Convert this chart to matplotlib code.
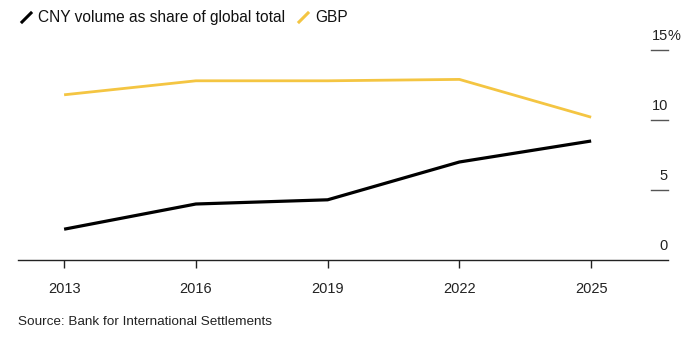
import matplotlib
matplotlib.use("Agg")
import matplotlib.pyplot as plt
from matplotlib.lines import Line2D
from matplotlib.transforms import blended_transform_factory

plt.rcParams['font.family'] = ['Liberation Sans', 'DejaVu Sans']

years = [2013, 2016, 2019, 2022, 2025]
cny_share = [2.2, 4.0, 4.3, 7.0, 8.5]
gbp_share = [11.8, 12.8, 12.8, 12.9, 10.2]
y_ticks = [0, 5, 10, 15]
y_labels = ['0', '5', '10', '15']

black = '#000000'
yellow = '#F4C542'
W, H = 700, 351

fig = plt.figure(figsize=(7, 3.51), dpi=100)
ax = fig.add_axes([18 / W, 1 - 260 / H, 650 / W, 210 / H])

ax.plot(years, gbp_share, color=yellow, lw=2.0, solid_capstyle='butt', zorder=2)
ax.plot(years, cny_share, color=black, lw=2.3, solid_capstyle='butt', zorder=3)

ax.set_xlim(2011.95, 2026.75)
ax.set_ylim(0, 15)

for s in ['top', 'right', 'left']:
    ax.spines[s].set_visible(False)
ax.spines['bottom'].set_color('#222222')
ax.spines['bottom'].set_linewidth(1.0)

ax.set_xticks(years)
ax.set_xticklabels([str(y) for y in years], fontsize=10.5, color='#222222')
ax.tick_params(axis='x', length=6, width=1, color='#222222', pad=10)
ax.set_yticks([])

# right-hand value scale: short dash with label sitting on top
tr = blended_transform_factory(ax.transAxes, ax.transData)
for v, lab in zip(y_ticks, y_labels):
    if v > 0:
        ax.plot([1 - 17 / 650, 1.0], [v, v], transform=tr, color='#555555',
                lw=1.0, clip_on=False)
    ax.text(1.0, v + 0.5, lab, transform=tr, ha='right', va='bottom',
            fontsize=10.5, color='#222222')
# percent sign hangs past the number column
ax.text(1.0, y_ticks[-1] + 0.5, '%', transform=tr, ha='left', va='bottom',
        fontsize=10.5, color='#222222')

# legend
for x0, col, txt in [(22, black, 'CNY volume as share of global total'),
                     (299, yellow, 'GBP')]:
    fig.add_artist(Line2D([x0 / W, (x0 + 9) / W], [1 - 22 / H, 1 - 13 / H],
                          color=col, lw=2.2, transform=fig.transFigure))
    fig.text((x0 + 16) / W, 1 - 17.5 / H, txt, ha='left', va='center',
             fontsize=11.2, color='#111111')

fig.text(18 / W, 1 - 322 / H, 'Source: Bank for International Settlements',
         ha='left', va='center', fontsize=9.7, color='#222222')

fig.savefig('out.png', dpi=100)
